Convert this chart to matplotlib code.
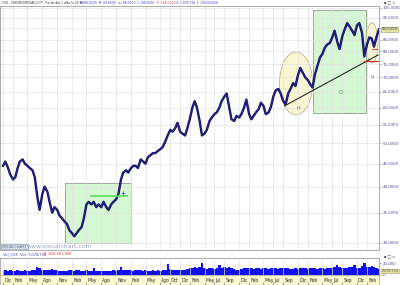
import numpy as np
import pandas as pd
import matplotlib
matplotlib.use("Agg")
import matplotlib.pyplot as plt
import matplotlib.dates as mdates
from matplotlib.patches import Ellipse, Rectangle
from matplotlib.ticker import NullLocator

# semi-monthly closes (1st / 15th of each month)
price = [
    44.5, 45.5,                                   # 2001-12
    44.0, 42.5, 41.5, 42.0, 44.0, 45.5, 46.0, 45.0, 44.5, 44.0, 43.5, 42.0,
    38.0, 35.5, 38.5, 40.0, 39.0, 37.0, 35.0, 36.0, 35.5, 34.5, 34.0, 33.5,  # 2002
    33.0, 32.0, 31.5, 31.0, 31.5, 32.0, 32.5, 34.0, 36.5, 37.0, 36.5, 37.0,
    36.0, 36.5, 36.0, 37.0, 36.0, 35.5, 36.5, 37.0, 37.5, 38.5, 41.5, 43.0,  # 2003
    43.5, 43.0, 44.0, 44.5, 44.5, 44.0, 46.0, 45.5, 45.0, 46.5, 47.0, 47.5,
    47.5, 48.0, 48.5, 49.0, 50.5, 52.0, 53.5, 53.0, 54.0, 55.5, 53.0, 52.5,  # 2004
    52.0, 54.0, 57.0, 60.0, 62.0, 60.0, 56.0, 52.0, 52.5, 53.5, 56.0, 57.0,
    58.0, 58.5, 60.0, 62.0, 63.5, 64.5, 60.0, 56.5, 56.0, 57.5, 57.0, 58.0,  # 2005
    60.0, 62.5, 58.0, 56.5, 57.5, 58.5, 59.5, 61.5, 60.5, 58.0, 58.5, 60.0,
    63.5, 65.5, 66.0, 64.5, 62.0, 61.0, 64.5, 66.0, 68.0, 67.0, 71.0, 73.5,  # 2006
    71.5, 70.0, 69.0, 67.5, 66.5, 71.0, 74.5, 77.5, 79.0, 81.5, 83.0, 83.5,
    86.0, 89.0, 84.0, 81.0, 86.5, 89.5, 92.5, 91.0, 89.0, 87.0, 91.5, 92.5,  # 2007
    88.0, 78.0, 83.0, 86.0, 85.5, 82.0, 86.5, 89.6,                          # 2008
]

# volume in millions of shares, same dates
volume = [
    7, 8,
    7, 8, 7, 7, 8, 7, 7, 8, 7, 7, 8, 9,
    14, 12, 9, 8, 8, 9, 10, 8, 8, 7, 7, 6,
    7, 8, 8, 7, 9, 8, 7, 7, 8, 7, 7, 12,
    7, 6, 6, 7, 7, 6, 7, 8, 7, 8, 13, 9,
    8, 9, 8, 7, 8, 9, 8, 7, 8, 7, 7, 8,
    7, 8, 7, 8, 9, 18, 10, 9, 8, 9, 9, 8,
    9, 10, 11, 12, 13, 11, 14, 20, 11, 10, 11, 12,
    10, 11, 16, 12, 13, 12, 14, 12, 10, 9, 9, 10,
    11, 12, 12, 11, 10, 11, 11, 10, 12, 11, 10, 11,
    12, 11, 10, 12, 11, 12, 12, 10, 10, 11, 10, 11,
    11, 12, 10, 11, 12, 11, 10, 11, 11, 10, 11, 12,
    12, 13, 16, 14, 12, 11, 12, 13, 14, 17, 12, 11,
    15, 20, 14, 13, 15, 14, 12, 10,
]

dates = pd.date_range("2001-12-01", periods=len(price), freq="SMS")

tick_dates = ["2001-12-01", "2002-02-01", "2002-05-01", "2002-08-01", "2002-11-01",
              "2003-02-01", "2003-05-01", "2003-08-01", "2003-11-01",
              "2004-02-01", "2004-05-01", "2004-08-01", "2004-10-01", "2004-12-01",
              "2005-02-01", "2005-05-01", "2005-07-01", "2005-09-01", "2005-12-01",
              "2006-02-01", "2006-05-01", "2006-07-01", "2006-09-01", "2006-12-01",
              "2007-02-01", "2007-05-01", "2007-07-01", "2007-09-01", "2007-12-01",
              "2008-02-01"]
tick_names = ["Dic", "Feb", "May", "Ago", "Nov", "Feb", "May", "Ago", "Nov",
              "Feb", "May", "Ago", "Oct", "Dic", "Feb", "May", "Jul", "Sep", "Dic",
              "Feb", "May", "Jul", "Sep", "Dic", "Feb", "May", "Jul", "Sep", "Dic",
              "Feb"]
price_ticks = [30, 35, 40, 45, 50, 55, 60, 65, 70, 75, 80, 85, 90, 95, 100]
last_price = 89.6

W, H = 400, 285
def box(x0, y0, x1, y1):
    return [x0 / W, 1 - y1 / H, (x1 - x0) / W, (y1 - y0) / H]

lab_col = "#4b4ba0"
fs = 2.75
x_lo, x_hi = pd.Timestamp("2001-11-12"), pd.Timestamp("2008-04-15")
tks = pd.to_datetime(tick_dates)
XR = 379

fig = plt.figure(figsize=(4, 2.85), dpi=100)

# ---- price panel
ax = fig.add_axes(box(0, 6, XR, 250))
ax.set_yscale("log")
ax.set_ylim(28.9, 101)
ax.set_xlim(x_lo, x_hi)
ax.yaxis.tick_right()
ax.set_yticks(price_ticks)
ax.set_yticklabels([f"{v},0000" for v in price_ticks])
ax.yaxis.set_minor_locator(NullLocator())
ax.tick_params(axis="y", labelsize=fs, labelcolor=lab_col, length=2, width=0.4,
               color="#9090c0", pad=0.6)
ax.set_xticks(tks)
ax.xaxis.set_minor_locator(NullLocator())
ax.tick_params(axis="x", length=0, labelbottom=False)
ax.grid(True, color="#e2e2e2", lw=0.5)
for s in ax.spines.values():
    s.set_color("#a0a0a0")
    s.set_linewidth(0.6)

def to_axes(d, p):
    return (ax.transData + ax.transAxes.inverted()).transform((mdates.date2num(pd.Timestamp(d)), p))

def ellipse(d0, d1, p0, p1):
    (x0, y0), (x1, y1) = to_axes(d0, p0), to_axes(d1, p1)
    ax.add_patch(Ellipse(((x0 + x1) / 2, (y0 + y1) / 2), x1 - x0, y1 - y0,
                         transform=ax.transAxes, fc="#f9f6d2", ec="#b8b48a", lw=0.6, zorder=1))

def green_box(d0, d1, p0, p1):
    x0 = mdates.date2num(pd.Timestamp(d0))
    x1 = mdates.date2num(pd.Timestamp(d1))
    ax.add_patch(Rectangle((x0, p0), x1 - x0, p1 - p0, fc="#d6f7d3", ec="#8c9a8c",
                           lw=0.6, zorder=1))

green_box("2002-12-18", "2004-01-30", 29.9, 40.7)
green_box("2007-03-01", "2008-01-28", 58.4, 99.0)
ellipse("2006-08-08", "2007-03-01", 57.8, 79.8)
ellipse("2008-01-25", "2008-04-08", 75.4, 92.6)

ax.plot(dates, price, color="#12125e", lw=1.7, zorder=3)
ax.plot(dates, price, color="#3030b0", lw=0.4, zorder=4)

ax.plot(pd.to_datetime(["2006-09-08", "2008-04-10"]), [60.5, 78.6], color="#101010", lw=0.7, zorder=5)
ax.plot(pd.to_datetime(["2008-01-16", "2008-04-10"]), [76.2, 76.2], color="#e02020", lw=0.8, zorder=5)
ax.plot(pd.to_datetime(["2008-03-01", "2008-04-01"]), [81.0, 81.0], color="#e02020", lw=0.6, zorder=5)
ax.plot(pd.to_datetime(["2003-05-28", "2004-01-05"]), [38.2, 38.2], color="#55e055", lw=1.2, zorder=5)
ax.plot(pd.Timestamp("2003-12-12"), 38.8, marker="+", color="#5050e0", ms=3, mew=0.6, zorder=6)

for d, p, t in [("2006-12-03", 59.6, "H"), ("2007-08-20", 64.7, "O"), ("2008-03-05", 69.9, "H")]:
    ax.text(pd.Timestamp(d), p, t, color="#3a9a3a", fontsize=3.4, ha="center", va="center", zorder=6)

ax.annotate(f"{last_price:.4f}".replace(".", ","), xy=(1, last_price),
            xycoords=("axes fraction", "data"), xytext=(2, 0), textcoords="offset points",
            fontsize=fs, color="#505050", va="center",
            bbox=dict(boxstyle="square,pad=0.1", fc="#e6e0a2", ec="#a09a60", lw=0.4))

ax.text(0.005, 0.01, "VISUALCHART", transform=ax.transAxes, fontsize=2.6, color="#607090",
        bbox=dict(boxstyle="square,pad=0.2", fc="#d8e0ee", ec="#8090b0", lw=0.4))
ax.text(0.07, 0.01, "www.visualchart.com", transform=ax.transAxes, fontsize=4.4, color="#9aa4c4")

# ---- volume panel
axv = fig.add_axes(box(0, 258, XR, 275))
axv.fill_between(dates, volume, step="mid", color="#1010f0", lw=0)
axv.set_xlim(x_lo, x_hi)
axv.set_ylim(0, 28.6)
axv.yaxis.tick_right()
axv.set_yticks([0, 20])
axv.set_yticklabels(["0", "20,000"])
axv.tick_params(axis="y", labelsize=fs, labelcolor=lab_col, length=2, width=0.4,
                color="#9090c0", pad=0.6)
axv.set_xticks(tks)
axv.xaxis.set_minor_locator(NullLocator())
axv.tick_params(axis="x", length=0, labelbottom=False)
axv.grid(True, axis="x", color="#e2e2e2", lw=0.5)
for s in axv.spines.values():
    s.set_color("#a0a0a0")
    s.set_linewidth(0.6)
axv.annotate("7,078,734", xy=(1, volume[-1] * 0.7), xycoords=("axes fraction", "data"),
             xytext=(2, 0), textcoords="offset points", fontsize=2.3, color="#505050",
             va="center", bbox=dict(boxstyle="square,pad=0.1", fc="#e6e0a2", ec="#a09a60", lw=0.4))

fig.text(3 / W, 1 - 254 / H, "Vol_CVX  Vol: 7,078,734", fontsize=2.6, color="#4040c0", va="center")
fig.text(44 / W, 1 - 254 / H, "P: 420,351,966", fontsize=2.6, color="#e03030", va="center")

# ---- date band
axd = fig.add_axes(box(0, 275, XR, 285))
axd.set_facecolor("#fbf7cf")
axd.set_xlim(x_lo, x_hi)
axd.set_ylim(0, 1)
axd.set_yticks([])
axd.set_xticks(tks)
axd.tick_params(axis="x", direction="in", length=2, width=0.4, color="#606060", labelbottom=False)
for d, n in zip(tks, tick_names):
    axd.text(d + pd.Timedelta(days=6), 0.42, n, fontsize=3.3, color="#303030", va="center", ha="left")
for s in axd.spines.values():
    s.set_color("#a0a0a0")
    s.set_linewidth(0.5)

# ---- header line and window buttons
hy = 1 - 3 / H
fig.text(2 / W, hy, "CVX - CHEVRONTEXACO CP - Fin de día 1 días In 23:59", fontsize=2.2,
         color="#303030", va="center")
fig.text(80 / W, hy, "A: 88,8000  M: 89,8000  m: 88,3500  C: 88,0000", fontsize=2.2,
         color="#4040c0", va="center")
fig.text(157 / W, hy, "P: 104,0000", fontsize=2.2, color="#e03030", va="center")
fig.text(176 / W, hy, "V: 7,078,734  F: 14/04/2008", fontsize=2.2, color="#4040c0", va="center")
fig.text(384 / W, hy, "▪ □ ×", fontsize=2.6, color="#404040", va="center")
fig.text(384 / W, 1 - 257 / H, "▪ □ ×", fontsize=2.6, color="#404040", va="center")

fig.savefig("out.png", dpi=100)
